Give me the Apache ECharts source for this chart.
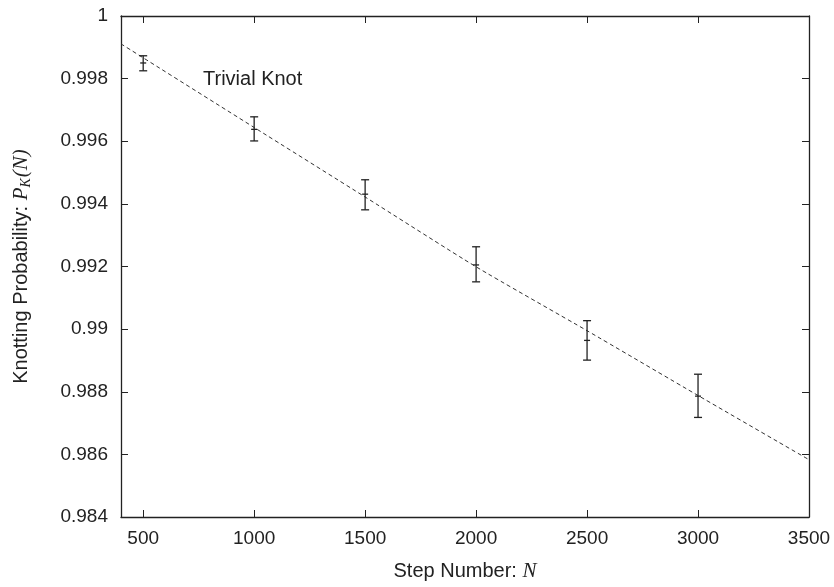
<!DOCTYPE html>
<html>
<head>
<meta charset="utf-8">
<script src="https://cdn.jsdelivr.net/npm/echarts@6/dist/echarts.min.js"></script>
<style>
  html, body { margin: 0; padding: 0; background: #fff; }
  #main { width: 834px; height: 587px; }
</style>
</head>
<body>
<div id="main"></div>
<script>
// measured knotting probability with error bars
var stepN = [500, 1000, 1500, 2000, 2500, 3000];
var probMean = [0.99850, 0.99638, 0.99431, 0.99205, 0.98964, 0.98786];
var probLow = [0.99825, 0.99601, 0.99381, 0.99151, 0.98901, 0.98718];
var probHigh = [0.99873, 0.99678, 0.99477, 0.99263, 0.99027, 0.98856];

// fitted curve (dashed)
var fitN = [400, 1000, 1500, 2000, 2500, 3000, 3500];
var fitP = [0.99911, 0.99644, 0.99422, 0.99199, 0.98995, 0.98788, 0.98583];

// tick labels
var xTicks = [500, 1000, 1500, 2000, 2500, 3000, 3500];
var yTicks = [0.984, 0.986, 0.988, 0.99, 0.992, 0.994, 0.996, 0.998, 1];

var ink = '#222';
var font = 'Liberation Sans, Arial, Helvetica, sans-serif';
var serif = 'Liberation Serif, DejaVu Serif, serif';

var myChart = echarts.init(document.getElementById('main'));

var errData = stepN.map(function (n, i) {
	return [n, probMean[i], probLow[i], probHigh[i]];
});
var fitData = fitN.map(function (n, i) {
	return [n, fitP[i]];
});

function frameAxis(pos, isX, showLabel) {
	return {
		type: 'value',
		position: pos,
		min: isX ? 400 : 0.984,
		max: isX ? 3500 : 1,
		splitLine: { show: false },
		axisLine: { show: true, onZero: false, lineStyle: { color: ink, width: 1.3 } },
		axisTick: {
			show: true, inside: true, length: 7,
			customValues: isX ? xTicks : yTicks,
			lineStyle: { color: ink, width: 1 }
		},
		axisLabel: {
			show: showLabel,
			customValues: isX ? xTicks : yTicks,
			color: ink,
			fontFamily: font,
			fontSize: 19,
			margin: isX ? 12 : 13,
			formatter: function (v) { return String(+v.toFixed(3)); }
		}
	};
}

var xBottom = frameAxis('bottom', true, true);
xBottom.name = 'Step Number: {i|N}';
xBottom.nameLocation = 'middle';
xBottom.nameGap = 44;
xBottom.nameTextStyle = {
	color: ink, fontFamily: font, fontSize: 20,
	rich: { i: { fontFamily: serif, fontStyle: 'italic', fontSize: 21, color: ink } }
};
var xTop = frameAxis('top', true, false);

var yLeft = frameAxis('left', false, true);
yLeft.name = 'Knotting Probability: {i|P}{sub|K}{i|(N)}';
yLeft.nameLocation = 'middle';
yLeft.nameGap = 88;
yLeft.nameTextStyle = {
	color: ink, fontFamily: font, fontSize: 20,
	rich: {
		i: { fontFamily: serif, fontStyle: 'italic', fontSize: 21, color: ink, lineHeight: 24 },
		sub: { fontFamily: serif, fontStyle: 'italic', fontSize: 14, color: ink, lineHeight: 14, verticalAlign: 'bottom', padding: [9, 1, 0, 0] }
	}
};
var yRight = frameAxis('right', false, false);

var option = {
	animation: false,
	backgroundColor: '#fff',
	grid: { left: 121, right: 25, top: 16, bottom: 68 },
	xAxis: [xBottom, xTop],
	yAxis: [yLeft, yRight],
	graphic: [{
		type: 'text',
		left: 203,
		top: 69,
		style: { text: 'Trivial Knot', fill: ink, font: '20px ' + font }
	}],
	series: [{
		name: 'fit',
		type: 'line',
		xAxisIndex: 0,
		yAxisIndex: 0,
		data: fitData,
		showSymbol: false,
		smooth: 0.2,
		lineStyle: { color: '#333', width: 1, type: [4, 3] },
		z: 2
	}, {
		name: 'errors',
		type: 'custom',
		xAxisIndex: 0,
		yAxisIndex: 0,
		data: errData,
		z: 3,
		renderItem: function (params, api) {
			var n = api.value(0);
			var c = api.coord([n, api.value(1)]);
			var lo = api.coord([n, api.value(2)]);
			var hi = api.coord([n, api.value(3)]);
			var cap = 4;
			var st = { stroke: ink, lineWidth: 1.3 };
			return {
				type: 'group',
				children: [
					{ type: 'line', shape: { x1: lo[0], y1: lo[1], x2: hi[0], y2: hi[1] }, style: st },
					{ type: 'line', shape: { x1: lo[0] - cap, y1: lo[1], x2: lo[0] + cap, y2: lo[1] }, style: st },
					{ type: 'line', shape: { x1: hi[0] - cap, y1: hi[1], x2: hi[0] + cap, y2: hi[1] }, style: st },
					{ type: 'line', shape: { x1: c[0] - 3, y1: c[1], x2: c[0] + 3, y2: c[1] }, style: st }
				]
			};
		}
	}]
};

myChart.setOption(option);
</script>
</body>
</html>
